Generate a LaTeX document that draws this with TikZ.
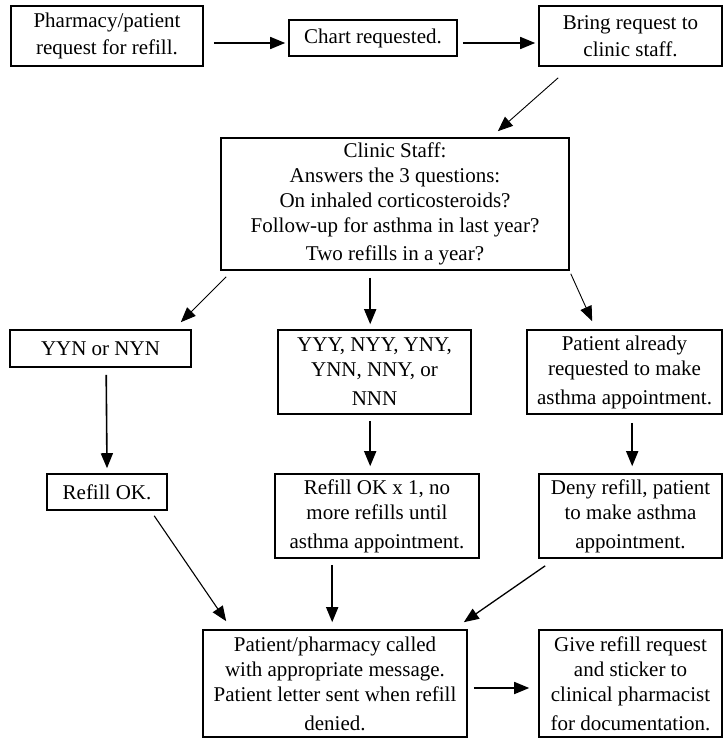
\documentclass[tikz,border=0pt]{standalone}
\usepackage{fontspec}
\setmainfont{Liberation Serif}
\usetikzlibrary{arrows.meta,calc}
\begin{document}
\begin{tikzpicture}[x=1pt,y=-1pt,
  box/.style={draw, line width=1.6pt, align=center, inner sep=0pt,
    font=\fontsize{21}{25}\selectfont},
  arr/.style={-{Triangle[length=15pt,width=12pt]}, line width=1.6pt},
  thinarr/.style={-{Triangle[length=15pt,width=12pt]}, line width=0.9pt}]
\useasboundingbox (0,0) rectangle (726,740);
% top row
\node[box, minimum width=192pt, minimum height=60pt] (b1) at (107,36) {Pharmacy/patient\\[2pt]request for refill.};
\node[box, minimum width=168pt, minimum height=36pt] (b2) at (373,38) {Chart requested.};
\node[box, minimum width=183pt, minimum height=60pt] (b3) at (630.5,36) {Bring request to\\[2pt]clinic staff.};
% clinic
\node[box, minimum width=348pt, minimum height=132pt] (clinic) at (395,204) {Clinic Staff:\\Answers the 3 questions:\\On inhaled corticosteroids?\\Follow-up for asthma in last year?\\[3pt]Two refills in a year?};
% second row
\node[box, minimum width=181pt, minimum height=37pt] (yyn) at (100.5,348.5) {YYN or NYN};
\node[box, minimum width=193pt, minimum height=84pt] (yyy) at (374.5,372) {YYY, NYY, YNY,\\YNN, NNY, or\\[4pt]NNN};
\node[box, minimum width=195pt, minimum height=84pt] (pa) at (624.5,372) {Patient already\\requested to make\\[4pt]asthma appointment.};
% third row
\node[box, minimum width=120pt, minimum height=36pt] (ok) at (107,492) {Refill OK.};
\node[box, minimum width=204pt, minimum height=84pt] (ok1) at (377,516) {Refill OK x 1, no\\more refills until\\[4pt]asthma appointment.};
\node[box, minimum width=183pt, minimum height=84pt] (deny) at (630.5,516) {Deny refill, patient\\to make asthma\\[4pt]appointment.};
% bottom row
\node[box, minimum width=264pt, minimum height=107pt] (pp) at (335,683.5) {Patient/pharmacy called\\with appropriate message.\\Patient letter sent when refill\\[4pt]denied.};
\node[box, minimum width=183pt, minimum height=107pt] (give) at (630.5,683.5) {Give refill request\\and sticker to\\clinical pharmacist\\[4pt]for documentation.};
% connectors
\draw[arr] ($(b1.east)+(10,7)$) -- ($(b2.west)+(-3,5)$);
\draw[arr] ($(b2.east)+(5,5)$) -- ($(b3.west)+(-3,7)$);
\draw[thinarr] ($(b3.south west)+(20,11)$) -- ($(clinic.north east)+(-72,-6)$);
\draw[thinarr] ($(clinic.south west)+(6,6)$) -- ($(yyn.north east)+(-11,-7)$);
\draw[arr] ($(clinic.south west)+(150,7)$) -- ($(yyy.north west)+(93,-5)$);
\draw[thinarr] ($(clinic.south east)+(1,3)$) -- ($(pa.north west)+(66,-8)$);
\draw[arr] ($(yyn.south west)+(97,7)$) -- ($(ok.north)+(0,-5)$);
\draw[arr] ($(yyy.south west)+(93,6)$) -- ($(ok1.north west)+(96,-7)$);
\draw[arr] ($(pa.south west)+(106,8)$) -- ($(deny.north west)+(94,-7)$);
\draw[arr, line width=1.1pt] ($(ok.south west)+(108,5)$) -- ($(pp.north west)+(24,-8)$);
\draw[arr] ($(ok1.south west)+(58,6)$) -- ($(pp.north west)+(130,-7)$);
\draw[arr, line width=1.3pt] ($(deny.south west)+(7,7)$) -- ($(pp.north east)+(-4,-7)$);
\draw[arr] ($(pp.east)+(6,4.5)$) -- ($(give.west)+(-9,4.5)$);
\end{tikzpicture}
\end{document}
